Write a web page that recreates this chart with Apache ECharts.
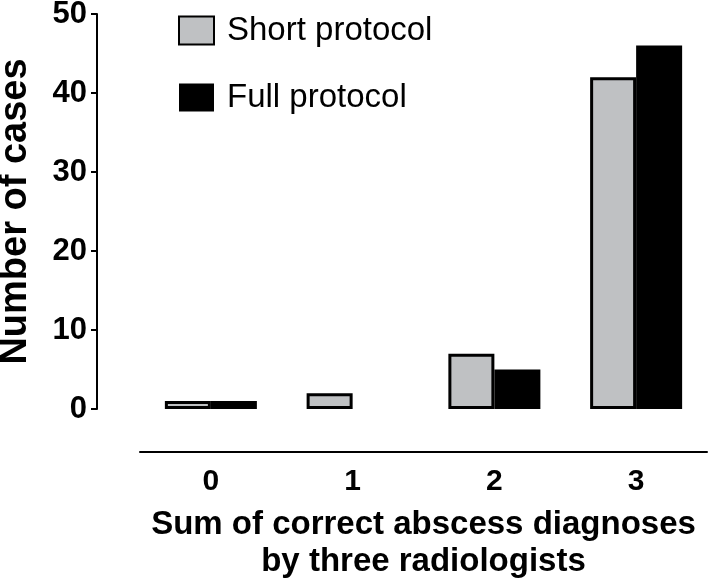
<!DOCTYPE html>
<html>
<head>
<meta charset="utf-8">
<script src="https://cdn.jsdelivr.net/npm/echarts@6/dist/echarts.min.js"></script>
<style>html,body{margin:0;padding:0;background:#fff;}#c{width:708px;height:586px;}</style>
</head>
<body>
<div id="c"></div>
<script>
const categories = ['0', '1', '2', '3'];
const shortProtocol = [1, 2, 7, 42];
const fullProtocol = [1, 0, 5, 46];
const yTicks = { min: 0, max: 50, interval: 10 };

const chart = echarts.init(document.getElementById('c'));
const FONT = '"Liberation Sans", Arial, Helvetica, sans-serif';
chart.setOption({
  animation: false,
  backgroundColor: '#ffffff',
  textStyle: { fontFamily: FONT, color: '#000' },
  legend: {
    orient: 'vertical',
    left: 173,
    top: 9,
    itemWidth: 35,
    itemHeight: 28,
    itemGap: 34,
    icon: 'rect',
    textStyle: { fontFamily: FONT, fontSize: 33, color: '#000', padding: [0, 0, 0, 8] },
    data: ['Short protocol', 'Full protocol']
  },
  grid: { left: 140, right: 1, top: 14, bottom: 177, containLabel: false, outerBoundsMode: 'none' },
  xAxis: {
    type: 'category',
    data: categories,
    offset: 43,
    axisLine: { onZero: false, lineStyle: { color: '#000', width: 2 } },
    axisTick: { alignWithLabel: true, length: 5, lineStyle: { color: '#000', width: 2 } },
    axisLabel: { color: '#000', fontFamily: FONT, fontWeight: 'bold', fontSize: 30, margin: 15 },
    name: 'Sum of correct abscess diagnoses\nby three radiologists',
    nameLocation: 'middle',
    nameGap: 54,
    nameTextStyle: { color: '#000', fontFamily: FONT, fontWeight: 'bold', fontSize: 33, lineHeight: 37 }
  },
  yAxis: {
    type: 'value',
    min: yTicks.min,
    max: yTicks.max,
    interval: yTicks.interval,
    offset: 43,
    splitLine: { show: false },
    axisLine: { show: true, lineStyle: { color: '#000', width: 2 } },
    axisTick: { show: true, length: 6, lineStyle: { color: '#000', width: 2 } },
    axisLabel: { color: '#000', fontFamily: FONT, fontWeight: 'bold', fontSize: 31, margin: 10 },
    name: 'Number of cases',
    nameLocation: 'middle',
    nameGap: 62,
    nameTextStyle: { color: '#000', fontFamily: FONT, fontWeight: 'bold', fontSize: 38 }
  },
  series: [
    {
      name: 'Short protocol',
      type: 'bar',
      data: shortProtocol,
      barWidth: 46,
      barGap: '0%',
      itemStyle: { color: '#bfc1c3', borderColor: '#000', borderWidth: 3 }
    },
    {
      name: 'Full protocol',
      type: 'bar',
      data: fullProtocol,
      barWidth: 46,
      barGap: '0%',
      itemStyle: { color: '#000', borderWidth: 0 }
    }
  ]
});
</script>
</body>
</html>
